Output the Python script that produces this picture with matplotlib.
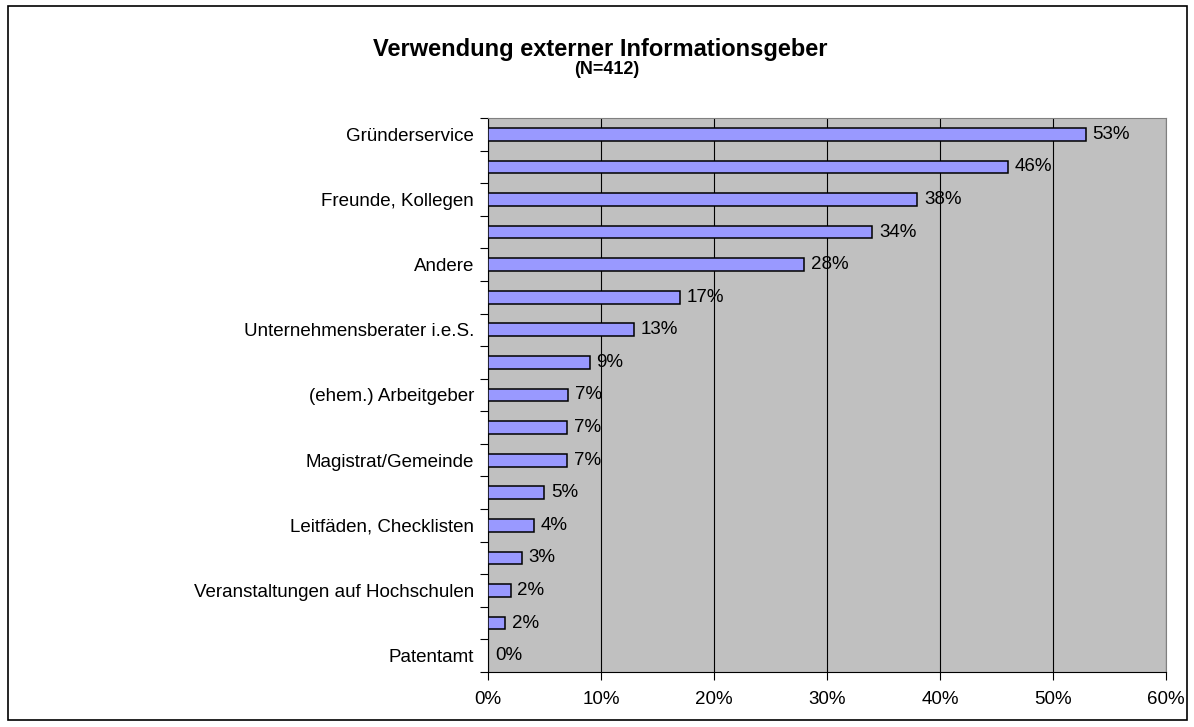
import matplotlib.pyplot as plt
from matplotlib.patches import Rectangle

plt.rcParams['font.family'] = ['Liberation Sans', 'DejaVu Sans']

# categories from top to bottom, every second one has no visible label
categories = ["Gründerservice", "", "Freunde, Kollegen", "", "Andere", "",
              "Unternehmensberater i.e.S.", "", "(ehem.) Arbeitgeber", "",
              "Magistrat/Gemeinde", "", "Leitfäden, Checklisten", "",
              "Veranstaltungen auf Hochschulen", "", "Patentamt"]
values = [52.9, 46.0, 38.0, 34.0, 28.0, 17.0, 12.9, 9.0, 7.1, 7.0, 7.0,
          5.0, 4.1, 3.0, 2.0, 1.5, 0.0]
xticks = [0, 10, 20, 30, 40, 50, 60]

fig = plt.figure(figsize=(11.94, 7.27), dpi=100)
ax = fig.add_axes([0.4087, 0.0757, 0.5678, 0.762])

n = len(categories)
ypos = list(range(n))
ax.barh(ypos, values, height=0.39, color="#9999FF", edgecolor="black",
        linewidth=1.1, zorder=3)
for y, v in zip(ypos, values):
    ax.text(v + 0.6, y, f"{v:.0f}%", va="center", ha="left", fontsize=13.5,
            zorder=4)

ax.set_ylim(n - 0.5, -0.5)
ax.set_xlim(0, 60)
ax.set_facecolor("#C0C0C0")

ax.set_xticks(xticks)
ax.set_xticklabels([f"{t}%" for t in xticks], fontsize=13.5)
ax.xaxis.grid(True, color="black", linewidth=0.8, zorder=1)
ax.set_axisbelow(True)

# labels at category centres, tick marks at category boundaries
ax.set_yticks(ypos)
ax.set_yticklabels(categories, fontsize=13.5)
ax.tick_params(axis="y", length=0, pad=10)
ax.set_yticks([i - 0.5 for i in range(n + 1)], minor=True)
ax.tick_params(axis="y", which="minor", length=6, width=0.8, direction="out")
ax.tick_params(axis="x", length=6, width=0.8, direction="out", pad=8)

for s in ["left", "bottom"]:
    ax.spines[s].set_color("black")
for s in ["top", "right"]:
    ax.spines[s].set_color("#808080")

fig.text(0.503, 0.932, "Verwendung externer Informationsgeber", ha="center",
         va="center", fontsize=17, fontweight="bold")
fig.text(0.508, 0.904, "(N=412)", ha="center", va="center", fontsize=13,
         fontweight="bold")

fig.patches.append(Rectangle((0.007, 0.009), 0.987, 0.983,
                             transform=fig.transFigure, fill=False,
                             edgecolor="black", linewidth=1.2))

fig.savefig("out.png", dpi=100)
